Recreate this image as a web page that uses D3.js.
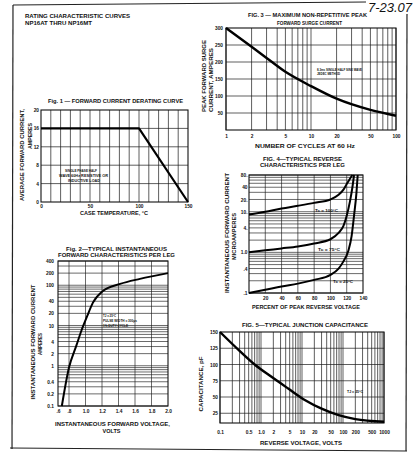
<!DOCTYPE html>
<html><head><meta charset="utf-8">
<script src="https://cdn.jsdelivr.net/npm/d3@7"></script>
<style>
html,body{margin:0;padding:0;background:#fff;}
svg{display:block;}
text{font-family:"Liberation Sans",Arial,sans-serif;font-weight:bold;fill:#111;}
</style>
</head><body><svg id="c" width="416" height="463"></svg>
<script>
// ---------------- DATA ----------------
// Fig 1 derating
const fig1Temp = [0, 100, 150];
const fig1Amps = [16, 16, 0];
const fig1XTicks = [0, 50, 100, 150];
const fig1XLabels = ["0", "50", "100", "150"];
const fig1YTicks = [0, 4, 8, 12, 16, 20];
const fig1YLabels = ["0", "4", "8", "12", "16", "20"];

// Fig 2 forward characteristics
const fig2Volts = [0.67, 0.8, 0.89, 0.95, 1.02, 1.09, 1.21, 1.42, 1.66, 2.0];
const fig2Amps  = [0.1, 0.9, 3.2, 7.4, 17, 37, 72, 108, 144, 200];
const fig2XTicks = [0.6, 0.8, 1.0, 1.2, 1.4, 1.6, 1.8, 2.0];
const fig2XLabels = [".6", ".8", "1.0", "1.2", "1.4", "1.6", "1.8", "2.0"];
const fig2YTicks = [0.1, 0.2, 0.4, 1, 2, 4, 10, 20, 40, 100, 200, 400];
const fig2YLabels = ["0.1", "0.2", "0.4", "1", "2", "4", "10", "20", "40", "100", "200", "400"];

// Fig 3 surge current
const fig3Cycles = [1, 2, 3, 5, 10, 20, 50, 100];
const fig3Amps   = [300, 245, 212, 171, 129, 92, 59, 42];
const fig3XTicks = [1, 2, 5, 10, 20, 50, 100];
const fig3XLabels = ["1", "2", "5", "10", "20", "50", "100"];
const fig3YTicks = [50, 100, 150, 200, 250, 300];
const fig3YLabels = ["50", "100", "150", "200", "250", "300"];

// Fig 4 reverse characteristics
const fig4Pct100 = [0, 20, 40, 60, 80, 100, 110, 116, 120, 124, 127];
const fig4Val100 = [8.5, 10, 12, 14, 16.5, 20, 26, 35, 48, 65, 80];
const fig4Pct75  = [0, 20, 40, 60, 80, 100, 110, 116, 120, 124, 127, 129];
const fig4Val75  = [1.0, 1.12, 1.25, 1.4, 1.65, 2.1, 3.0, 4.5, 8, 18, 40, 80];
const fig4Pct25  = [0, 20, 40, 60, 80, 100, 110, 116, 122, 126, 129, 132, 133.5];
const fig4Val25  = [0.1, 0.12, 0.145, 0.17, 0.21, 0.28, 0.4, 0.6, 1.1, 2.5, 8, 30, 80];
const fig4XTicks = [20, 40, 60, 80, 100, 120, 140];
const fig4XLabels = ["20", "40", "60", "80", "100", "120", "140"];
const fig4YTicks = [0.1, 0.4, 1, 4, 10, 20, 40, 80];
const fig4YLabels = [".1", ".4", "1.0", "4.", "10.", "20.", "40", "80."];

// Fig 5 junction capacitance
const fig5Volts = [0.1, 0.3, 0.7, 1.8, 4.6, 12, 30, 78, 200, 1000];
const fig5PF    = [150, 121, 100, 81, 63, 45, 32, 22, 16, 12];
const fig5XTicks = [0.1, 0.5, 1, 2, 5, 10, 20, 50, 100, 200, 500, 1000];
const fig5XLabels = ["0.1", "0.5", "1.0", "2", "5", "10", "20", "50", "100", "200", "500", "1000"];
const fig5YTicks = [25, 50, 75, 100, 125, 150];
const fig5YLabels = ["25", "50", "75", "100", "125", "150"];

// ---------------- DRAWING ----------------
const svg = d3.select('#c');
svg.append('rect').attr('width', 416).attr('height', 463).attr('fill', '#fff');

function txt(s, x, y, size, len, anchor) {
  const t = svg.append('text').attr('x', x).attr('y', y).attr('font-size', size)
    .attr('text-anchor', anchor || 'middle').text(s);
  if (len) t.attr('textLength', len).attr('lengthAdjust', 'spacingAndGlyphs');
  return t;
}
function vtxt(s, cx, cy, size, len) {
  const t = svg.append('text').attr('transform', `translate(${cx},${cy}) rotate(-90)`)
    .attr('text-anchor', 'middle').attr('dominant-baseline', 'central')
    .attr('font-size', size).text(s);
  if (len) t.attr('textLength', len).attr('lengthAdjust', 'spacingAndGlyphs');
  return t;
}

function panel(p) {
  const g = svg.append('g');
  const [x0, x1] = [p.x.range()[0], p.x.range()[p.x.range().length - 1]];
  const [yb, yt] = p.y.range();
  g.selectAll('line.gx').data(p.xGrid).join('line')
    .attr('x1', d => p.x(d)).attr('x2', d => p.x(d)).attr('y1', yb).attr('y2', yt)
    .attr('stroke', '#1a1a1a').attr('stroke-width', p.gw || 0.7);
  g.selectAll('line.gy').data(p.yGrid).join('line')
    .attr('y1', d => p.y(d)).attr('y2', d => p.y(d)).attr('x1', x0).attr('x2', x1)
    .attr('stroke', '#1a1a1a').attr('stroke-width', p.gw || 0.7);
  g.append('rect').attr('x', x0).attr('y', yt).attr('width', x1 - x0).attr('height', yb - yt)
    .attr('fill', 'none').attr('stroke', '#111').attr('stroke-width', 1.1);

  const ax = g.append('g').attr('transform', `translate(0,${yb})`)
    .call(d3.axisBottom(p.x).tickValues(p.xTicks).tickFormat((d, i) => p.xLabels[i]).tickSize(0).tickPadding(p.xPad));
  const ay = g.append('g').attr('transform', `translate(${x0},0)`)
    .call(d3.axisLeft(p.y).tickValues(p.yTicks).tickFormat((d, i) => p.yLabels[i]).tickSize(0).tickPadding(p.yPad));
  [ax, ay].forEach(a => {
    a.attr('font-family', null).attr('font-size', null);
    a.select('.domain').remove();
    a.selectAll('text').attr('font-size', p.fs || 4.8).attr('fill', '#111');
  });

  const line = d3.line().x(d => p.x(d[0])).y(d => p.y(d[1])).curve(p.curve || d3.curveMonotoneX);
  p.series.forEach(s => {
    g.append('path').datum(s.xs.map((v, i) => [v, s.ys[i]])).attr('d', line)
      .attr('fill', 'none').attr('stroke', '#000').attr('stroke-width', s.w || 2.2)
      .attr('stroke-linejoin', 'round');
  });
}

// Page frame
svg.append('line').attr('x1', 13).attr('y1', 5).attr('x2', 366).attr('y2', 2).attr('stroke', '#222').attr('stroke-width', 1.2);
svg.append('line').attr('x1', 13).attr('y1', 5).attr('x2', 12).attr('y2', 449).attr('stroke', '#222').attr('stroke-width', 1.2);
svg.append('line').attr('x1', 10).attr('y1', 448).attr('x2', 407).attr('y2', 451).attr('stroke', '#222').attr('stroke-width', 1.2);
svg.append('line').attr('x1', 407).attr('y1', 14).attr('x2', 406).attr('y2', 451).attr('stroke', '#222').attr('stroke-width', 1.2);
svg.append('text').attr('x', 368).attr('y', 12).attr('font-size', 12).attr('font-style', 'italic')
  .style('font-weight', 'normal').attr('textLength', 44).attr('lengthAdjust', 'spacingAndGlyphs').text('7-23.07');

// Header
txt('RATING CHARACTERISTIC CURVES', 25, 17.8, 5.4, 105, 'start');
txt('NP16AT THRU NP16MT', 25, 24.8, 5.4, 67, 'start');

// ---- Fig 1 ----
panel({
  x: d3.scaleLinear().domain([0, 150]).range([41, 188]),
  y: d3.scaleLinear().domain([0, 20]).range([202, 110]),
  xGrid: d3.range(10, 150, 10), yGrid: [4, 8, 12, 16],
  xTicks: fig1XTicks, xLabels: fig1XLabels, yTicks: fig1YTicks, yLabels: fig1YLabels,
  xPad: 3, yPad: 2, curve: d3.curveLinear,
  series: [{ xs: fig1Temp, ys: fig1Amps, w: 2.2 }]
});
txt('Fig. 1 — FORWARD CURRENT DERATING CURVE', 115.5, 102.8, 5.4, 135);
vtxt('AVERAGE FORWARD CURRENT,', 22, 155, 6, 92);
vtxt('AMPERES', 29.5, 136, 6, 26);
txt('CASE TEMPERATURE, °C', 114, 215, 6, 68);
txt('SINGLE PHASE HALF', 65, 171.5, 4.4, 32, 'start');
txt('WAVE 60Hz RESISTIVE OR', 59, 176.5, 4.4, 49, 'start');
txt('INDUCTIVE LOAD', 68, 181.5, 4.4, 32, 'start');

// ---- Fig 2 ----
const y2 = d3.scaleLog().domain([0.1, 400]).range([406, 261]);
panel({
  x: d3.scaleLinear().domain([0.6, 0.8, 2.0]).range([58, 69, 168]),
  y: y2,
  xGrid: [0.8, 1.0, 1.2, 1.4, 1.6, 1.8], yGrid: y2.ticks(),
  xTicks: fig2XTicks, xLabels: fig2XLabels, yTicks: fig2YTicks, yLabels: fig2YLabels,
  xPad: 3.4, yPad: 4, gw: 0.65,
  series: [{ xs: fig2Volts, ys: fig2Amps, w: 2 }]
});
txt('Fig. 2—TYPICAL INSTANTANEOUS', 116.5, 250.5, 5.2, 101);
txt('FORWARD CHARACTERISTICS PER LEG', 116.5, 257, 5.2, 117);
vtxt('INSTANTANEOUS FORWARD CURRENT', 33, 342, 6, 115);
vtxt('AMPERES', 40, 344, 5.5, 22);
txt('INSTANTANEOUS FORWARD VOLTAGE,', 112.5, 426, 6, 115);
txt('VOLTS', 111.5, 433, 6, 18);
txt('TJ = 25°C', 103, 317.2, 4.1, 13, 'start');
txt('PULSE WIDTH = 300μs', 103, 322.2, 4.1, 34, 'start');
txt('1% DUTY CYCLE', 103, 327.2, 4.1, 25, 'start');

// ---- Fig 3 ----
const x3 = d3.scaleLog().domain([1, 100]).range([226, 396]);
panel({
  x: x3,
  y: d3.scaleLinear().domain([0, 300]).range([130, 28]),
  xGrid: x3.ticks(), yGrid: [50, 100, 150, 200, 250],
  xTicks: fig3XTicks, xLabels: fig3XLabels, yTicks: fig3YTicks, yLabels: fig3YLabels,
  xPad: 5, yPad: 3,
  series: [{ xs: fig3Cycles, ys: fig3Amps, w: 2.4 }]
});
txt('FIG. 3 — MAXIMUM NON-REPETITIVE PEAK', 307.5, 16.8, 5.4, 119);
txt('FORWARD SURGE CURRENT', 309.5, 24.8, 5.4, 65);
vtxt('PEAK FORWARD SURGE', 204, 76, 6, 72);
vtxt('CURRENT, AMPERES', 210.5, 80, 6, 64);
txt('NUMBER OF CYCLES AT 60 Hz', 305, 148, 6, 100);
txt('8.3ms SINGLE HALF SINE WAVE', 317, 70.5, 4.1, 45, 'start');
txt('JEDEC METHOD', 317, 75, 4.1, 23, 'start');

// ---- Fig 4 ----
const y4 = d3.scaleLog().domain([0.1, 80]).range([293, 175]);
panel({
  x: d3.scaleLinear().domain([0, 140]).range([249, 363]),
  y: y4,
  xGrid: [20, 40, 60, 80, 100, 120], yGrid: y4.ticks(),
  xTicks: fig4XTicks, xLabels: fig4XLabels, yTicks: fig4YTicks, yLabels: fig4YLabels,
  xPad: 3.4, yPad: 1.5, gw: 0.65,
  series: [
    { xs: fig4Pct100, ys: fig4Val100, w: 2 },
    { xs: fig4Pct75, ys: fig4Val75, w: 2 },
    { xs: fig4Pct25, ys: fig4Val25, w: 2 }
  ]
});
txt('FIG. 4—TYPICAL REVERSE', 302.5, 160.8, 5.4, 79);
txt('CHARACTERISTICS PER LEG', 302.5, 166.8, 5.4, 85);
vtxt('INSTANTANEOUS FORWARD CURRENT', 227, 233, 6, 120);
vtxt('MICROAMPERES', 234, 236.5, 5.5, 47);
txt('PERCENT OF PEAK REVERSE VOLTAGE', 306, 309.3, 6, 108);
txt('Tc = 100°C', 315, 211.5, 4.3, 23, 'start');
txt('Tc = 75°C', 318, 250.5, 4.3, 22, 'start');
txt('Tc = 25°C', 333, 282.5, 4.3, 20, 'start');

// ---- Fig 5 ----
const x5 = d3.scaleLog().domain([0.1, 1000]).range([220, 384]);
panel({
  x: x5,
  y: d3.scaleLinear().domain([10, 150]).range([423, 332]),
  xGrid: x5.ticks(), yGrid: [25, 50, 75, 100, 125],
  xTicks: fig5XTicks, xLabels: fig5XLabels, yTicks: fig5YTicks, yLabels: fig5YLabels,
  xPad: 8, yPad: 2,
  series: [{ xs: fig5Volts, ys: fig5PF, w: 2.4 }]
});
txt('FIG. 5—TYPICAL JUNCTION CAPACITANCE', 305, 327, 5.4, 126);
vtxt('CAPACITANCE, pF', 200.5, 384, 6, 55);
txt('REVERSE VOLTAGE, VOLTS', 301, 445.2, 6, 82);
txt('TJ = 25°C', 347, 392.7, 4.3, 16, 'start');
</script>
</body></html>
